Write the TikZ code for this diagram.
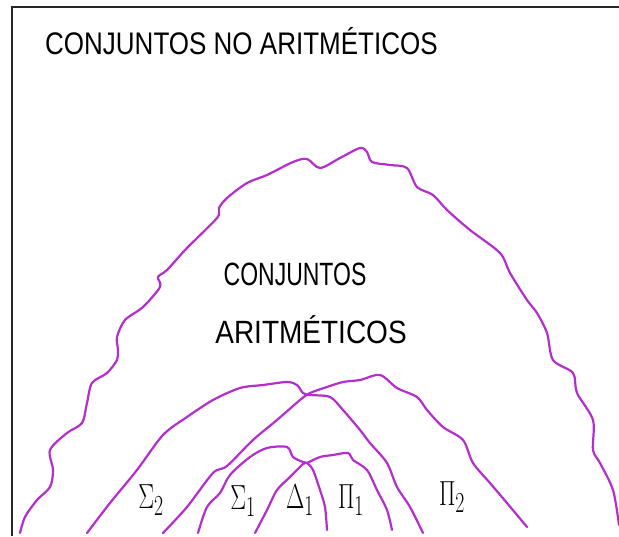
\documentclass[tikz,border=0pt]{standalone}
\usepackage{fontspec}
\setmainfont{Liberation Sans}
\usepackage{amsmath}
\definecolor{morado}{RGB}{180,45,205}
\newcommand{\rot}[1]{\scalebox{0.95}[1.4]{$#1$}}

\begin{document}
\begin{tikzpicture}[
    x=1pt, y=-1pt,
    marco/.style={line width=1.6pt, draw=black!85},
    arco/.style={draw=morado, line width=2.2pt, line cap=round, line join=round},
    titulo/.style={font=\fontsize{26}{30}\selectfont, anchor=west, inner sep=0pt},
    texto/.style={inner sep=0pt},
    rotulo/.style={font=\fontsize{24.88}{28}\selectfont, inner sep=0pt}
]

\useasboundingbox (0,0) rectangle (619,536);

\draw[marco] (12,536) -- (12,7) -- (619,7);

\node[titulo] (noarit) at (45,41) {\scalebox{1}[1.2]{CONJUNTOS NO ARITMÉTICOS}};

\draw[arco] plot[smooth, tension=0.5] coordinates {
    (20,533) (25,517) (37,500) (50,487) (53,470) (50,450) (67,433)
    (82,423) (87,403) (92,383) (107,373) (117,360) (118,350)
    (117,337) (125,320) (143,307)
    (160,287) (158,277) (167,270) (187,248) (217,218) (219,208)
    (227,198) (247,183) (267,175) (293,162) (307,159) (320,168)
    (340,158) (360,148) (367,152) (372,162) (390,165) (407,168)
    (417,187) (433,195) (447,210) (470,230) (500,253) (510,273)
    (527,300) (537,313) (547,333) (553,360) (573,373) (577,393)
    (593,420) (593,450) (600,463) (613,490) (619,525)};

\node[texto, font=\fontsize{23}{26}\selectfont] (conj) at (295,274)
    {\scalebox{1}[1.4]{CONJUNTOS}};
\node[texto, font=\fontsize{28}{30}\selectfont] (arit) at (311,330)
    {\scalebox{1}[1.15]{ARITMÉTICOS}};

\draw[arco] plot[smooth, tension=0.5] coordinates {
    (87,533) (110,503) (137,470) (163,435) (187,417) (213,400)
    (240,388) (263,385) (287,382) (297,385) (303,393) (310,395)
    (330,397) (343,410) (360,430) (370,443) (387,463) (397,487)
    (410,507) (423,533)};

\draw[arco] plot[smooth, tension=0.5] coordinates {
    (163,533) (187,507) (213,473) (227,466) (253,440) (277,420)
    (300,400) (310,393) (327,387) (343,382) (360,380) (380,375)
    (397,388) (417,397) (427,410) (443,427) (463,440) (473,463)
    (490,483) (507,503) (527,527)};

\draw[arco] plot[smooth, tension=0.5] coordinates {
    (198,533) (207,507) (220,493) (230,475) (250,457) (267,448)
    (287,447) (293,457) (303,462) (307,463) (313,470) (320,490)
    (325,507) (327,530)};

\draw[arco] plot[smooth, tension=0.5] coordinates {
    (255,533) (267,510) (277,490) (290,477) (303,464) (307,463)
    (320,457) (333,455) (348,453) (353,460) (367,470) (377,490)
    (387,510) (392,530)};

\node[rotulo] (sigmados) at (151,500) {\rot{\Sigma_2}};
\node[rotulo] (sigmauno) at (243,501) {\rot{\Sigma_1}};
\node[rotulo] (deltauno) at (300,500) {\rot{\Delta_1}};
\node[rotulo] (piuno) at (351,500) {\rot{\Pi_1}};
\node[rotulo] (pidos) at (452,497) {\rot{\Pi_2}};

\end{tikzpicture}
\end{document}
